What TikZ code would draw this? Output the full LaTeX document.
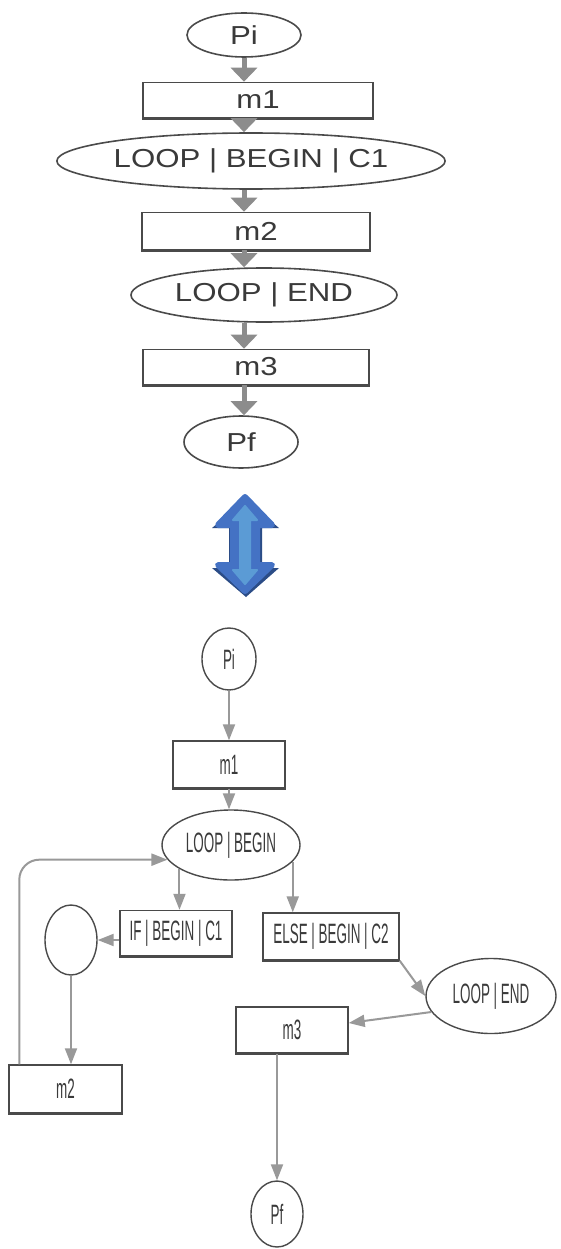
\documentclass[tikz,border=0pt]{standalone}
\usepackage{fontspec}
\usetikzlibrary{shapes.geometric,arrows.meta}
\newfontfamily\wideface[FakeStretch=1.2]{Liberation Sans}
\newfontfamily\narrowface[FakeStretch=0.48]{Liberation Sans}
\definecolor{edgegray}{HTML}{4A4A4A}
\definecolor{textgray}{HTML}{3A3A3A}
\definecolor{flowgray}{HTML}{8C8C8C}
\definecolor{netgray}{HTML}{999999}
\definecolor{arrowblue}{HTML}{4472C4}
\definecolor{arrowdark}{HTML}{2B4C86}
\definecolor{arrowlight}{HTML}{5B9BD5}
\tikzset{
  flowbox/.style={draw=edgegray, line width=1.6pt, rectangle, inner sep=0pt,
    text=textgray, font=\wideface\fontsize{26}{30}\selectfont},
  flowoval/.style={draw=edgegray, line width=1.6pt, ellipse, inner sep=0pt,
    text=textgray, font=\wideface\fontsize{26}{30}\selectfont},
  netbox/.style={draw=edgegray, line width=1.4pt, rectangle, inner sep=0pt,
    text=textgray, font=\narrowface\fontsize{28}{32}\selectfont},
  netoval/.style={draw=edgegray, line width=1.4pt, ellipse, inner sep=0pt,
    text=textgray, font=\narrowface\fontsize{28}{32}\selectfont},
  flowarrow/.style={draw=flowgray, line width=5pt,
    -{Triangle[width=26pt,length=14pt]}},
  netarrow/.style={draw=netgray, line width=2pt,
    -{Triangle[width=12pt,length=16pt]}},
  baseline edge/.style={draw=edgegray, line width=3pt}
}
\begin{document}
\begin{tikzpicture}[x=1pt,y=-1pt]
\useasboundingbox (0,0) rectangle (560,1249);
\fill[white] (0,0) rectangle (560,1249);

% ---- linear flowchart ----
\node[flowoval, minimum width=114pt, minimum height=44pt] (tPi) at (244,35) {Pi};
\node[flowbox, minimum width=230pt, minimum height=35pt] (tm1) at (258,100) {m1};
\node[flowoval, minimum width=308pt, minimum height=56pt] (tLB) at (251,161) {LOOP | BEGIN | C1};
\node[flowbox, minimum width=228pt, minimum height=37pt] (tm2) at (256,231) {m2};
\node[flowoval, minimum width=266pt, minimum height=54pt] (tLE) at (264,295) {LOOP | END};
\node[flowbox, minimum width=226pt, minimum height=35pt] (tm3) at (256,367) {m3};
\node[flowoval, minimum width=114pt, minimum height=52pt] (tPf) at (241,442) {Pf};

\foreach \n in {tm1,tm2,tm3}
  \draw[baseline edge] (\n.south west) -- (\n.south east);

\draw[flowarrow] (tPi.south) -- (tPi.south |- tm1.north);
\draw[flowarrow] (tPi.south |- tm1.south) -- (tPi.south |- tLB.north);
\draw[flowarrow] (tPi.south |- tLB.south) -- (tPi.south |- tm2.north);
\draw[flowarrow] (tPi.south |- tm2.south) -- (tPi.south |- tLE.north);
\draw[flowarrow] (tPi.south |- tLE.south) -- (tPi.south |- tm3.north);
\draw[flowarrow] (tPi.south |- tm3.south) -- (tPi.south |- tPf.north);

% ---- equivalence arrow ----
\fill[arrowdark] (246,500) -- (279,528) -- (262,528) -- (262,568) -- (279,568)
  -- (246,597) -- (212,568) -- (229,568) -- (229,528) -- (212,528) -- cycle;
\filldraw[fill=arrowblue, draw=arrowblue, line width=6pt, line join=round]
  (245,497) -- (272,525) -- (257,525) -- (257,565) -- (272,565) -- (245,591)
  -- (218,565) -- (233,565) -- (233,525) -- (218,525) -- cycle;
\filldraw[fill=arrowlight, draw=arrowlight, line width=2pt, line join=round]
  (245,506) -- (257,520) -- (250,520) -- (250,570) -- (257,570) -- (245,584)
  -- (233,570) -- (240,570) -- (240,520) -- (233,520) -- cycle;

% ---- net with branches ----
\node[netoval, minimum width=54pt, minimum height=62pt] (bPi) at (229,659) {Pi};
\node[netbox, minimum width=112pt, minimum height=47pt] (bm1) at (229,764.5) {m1};
\node[netoval, minimum width=138pt, minimum height=70pt] (bLB) at (231,845) {LOOP | BEGIN};
\node[netbox, minimum width=112pt, minimum height=45pt] (bIF) at (176,933) {IF | BEGIN | C1};
\node[netbox, minimum width=136pt, minimum height=47pt] (bEL) at (331,936.5) {ELSE | BEGIN | C2};
\node[netoval, minimum width=52pt, minimum height=70pt] (bC) at (71,940) {};
\node[netoval, minimum width=130pt, minimum height=75pt] (bLE) at (491,996) {LOOP | END};
\node[netbox, minimum width=113pt, minimum height=48pt] (bm2) at (65.5,1089) {m2};
\node[netbox, minimum width=112pt, minimum height=46pt] (bm3) at (292,1030) {m3};
\node[netoval, minimum width=52pt, minimum height=66pt] (bPf) at (277,1214) {Pf};

\foreach \n in {bm1,bIF,bEL,bm2,bm3}
  \draw[baseline edge] (\n.south west) -- (\n.south east);

\draw[netarrow] (bPi.south) -- (bPi.south |- bm1.north);
\draw[netarrow] (bm1.south) -- (bm1.south |- bLB.north);
\draw[netarrow] (bLB.205) -- (bLB.205 |- bIF.north);
\draw[netarrow] (bLB.-15) -- (bLB.-15 |- bEL.north);
\draw[netarrow] (bIF.west |- bC.east) -- (bC.east);
\draw[netarrow] (bC.south) -- (bC.south |- bm2.north);
\draw[netarrow, rounded corners=20pt] ([xshift=11pt]bm2.north west) |- (bLB.193.5);
\draw[netarrow] (bEL.south east) -- (bLE.west);
\draw[netarrow] (bLE.195) -- ([yshift=7pt]bm3.east);
\draw[netarrow] (bPf.north |- bm3.south) -- (bPf.north);
\end{tikzpicture}
\end{document}
